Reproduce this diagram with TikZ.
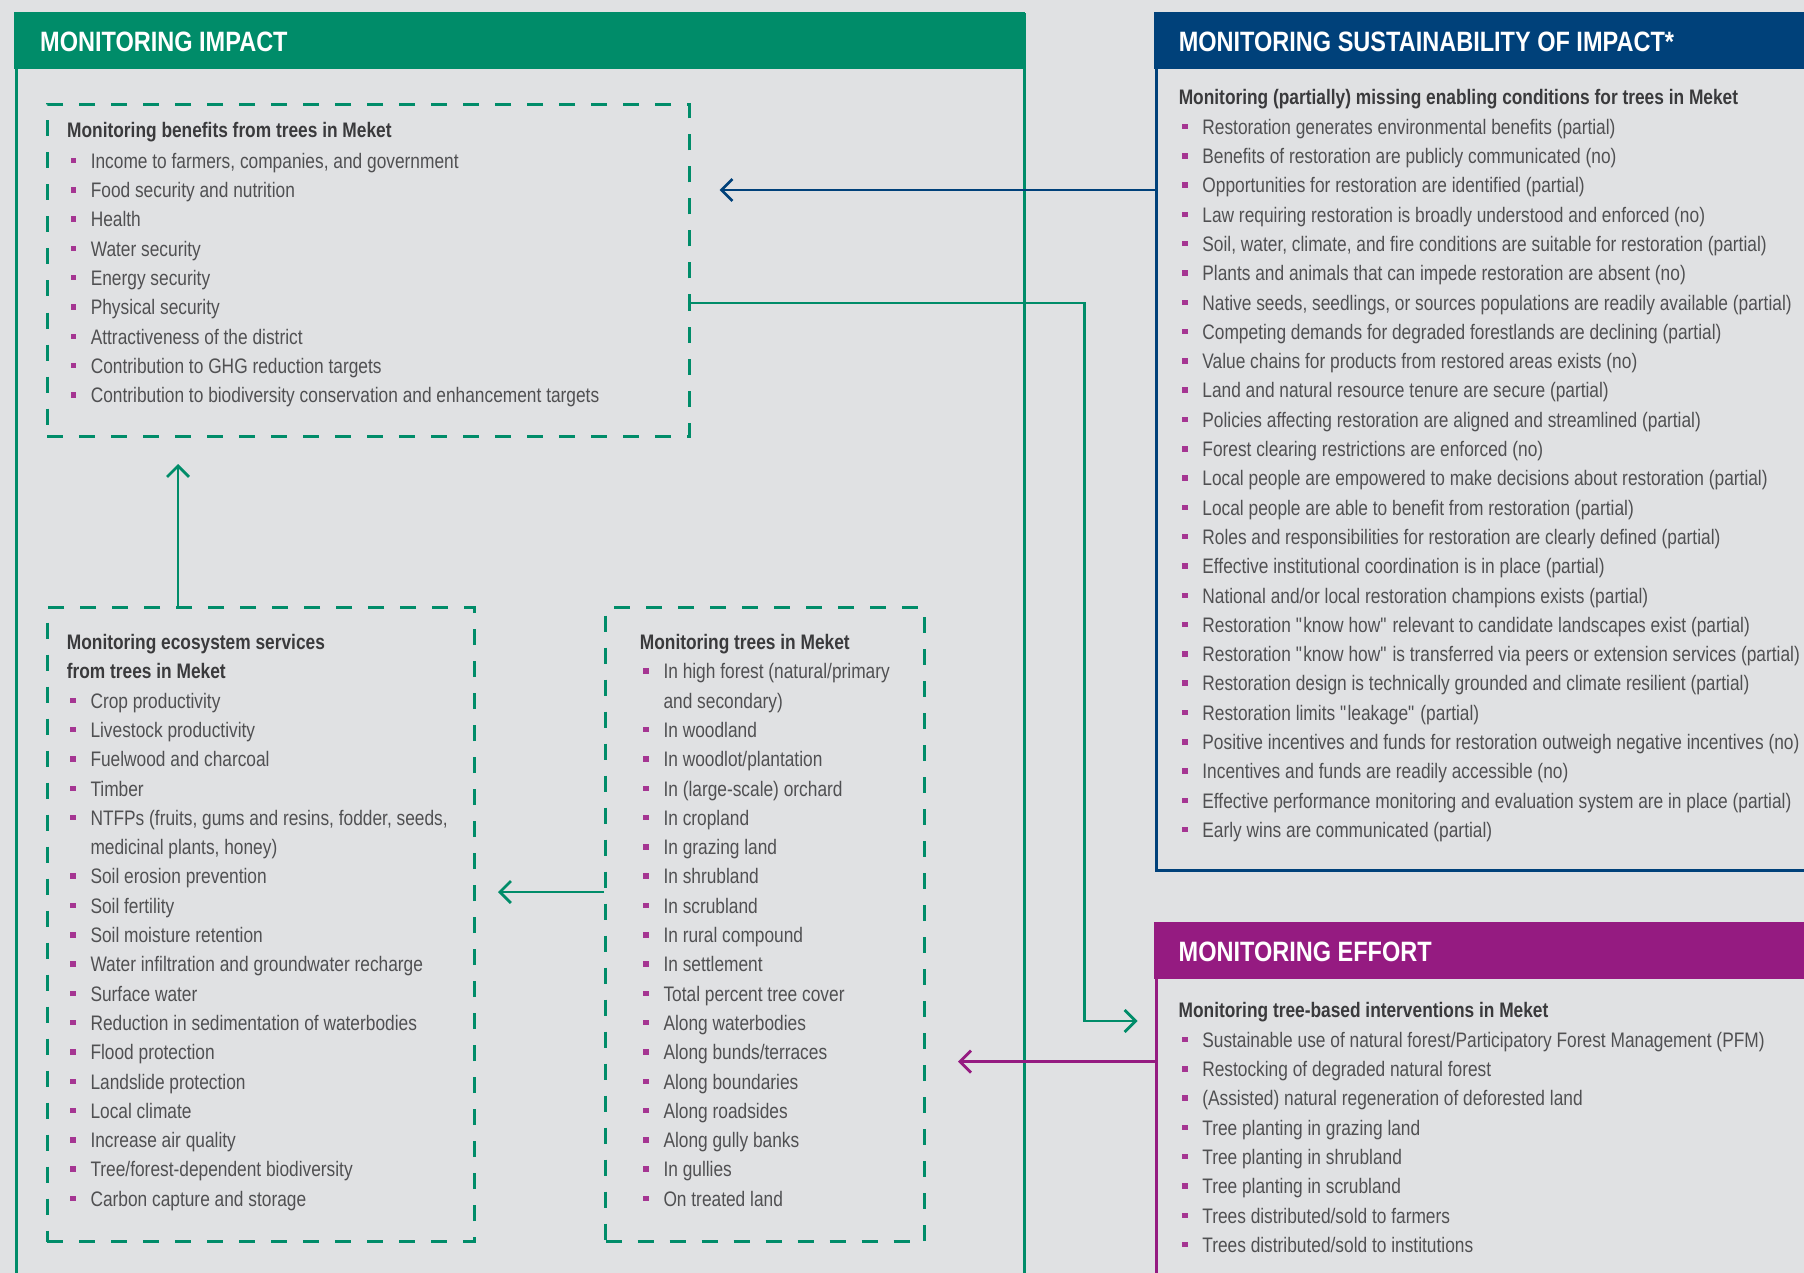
\documentclass[tikz,border=0pt]{standalone}
\usepackage{fontspec}
\usepackage{xcolor}
\usepackage{tikz}
\setmainfont{Liberation Sans}[FakeStretch=0.825]
\newfontfamily\headfont{Liberation Sans}[FakeStretch=0.84]
\definecolor{impactgreen}{HTML}{008C69}
\definecolor{sustblue}{HTML}{00417A}
\definecolor{effortpink}{HTML}{951B81}
\definecolor{bulletpink}{HTML}{A53592}
\definecolor{pagegray}{HTML}{E0E1E3}
\definecolor{itemgray}{HTML}{505052}
\definecolor{headgray}{HTML}{3A3A3C}
\usetikzlibrary{arrows.meta,calc}
\newcommand{\firstline}{\rule{0pt}{20pt}}
\newcommand{\bul}{\hspace*{3.5pt}\makebox[20.1pt][l]{\textcolor{bulletpink}{\rule[5pt]{5.5pt}{5.5pt}}}}
\newcommand{\cont}{\hspace*{23.6pt}}
\newcommand{\hd}[1]{{\color{headgray}\bfseries #1}}
\newcommand{\qt}{\textquotedbl}
\tikzset{panel/.style={
    draw=#1,
    line width=3pt,
    anchor=north west,
    inner sep=0pt}}
\tikzset{headband/.style={
    fill=#1,
    anchor=north west,
    inner sep=0pt,
    minimum height=57.5pt}}
\tikzset{headtext/.style={
    text=white,
    anchor=base west,
    inner sep=0pt,
    font=\headfont\fontsize{28}{30}\selectfont\bfseries}}
\tikzset{dashbox/.style={
    draw=impactgreen,
    line width=3pt,
    dash pattern=on 16pt off 16pt,
    anchor=north west,
    inner sep=0pt}}
\tikzset{listtext/.style={
    anchor=north west,
    inner sep=0pt,
    align=left,
    text=itemgray,
    font=\fontsize{21}{29.3}\selectfont}}
\tikzset{flowarrow/.style={
    draw=#1,
    line width=2.8pt,
    -{Straight Barb[length=11pt,width=22pt]}}}

\begin{document}
\begin{tikzpicture}[x=1pt, y=-1pt]
\useasboundingbox[fill=pagegray] (0,0) rectangle (1804,1273);
\clip (0,0) rectangle (1804,1273);

% panels
\node[panel=impactgreen, minimum width=1008pt, minimum height=1320pt] (impact) at (15,13) {};
\node[headband=impactgreen, minimum width=1011pt] (impacthead) at (13.5,11.5) {};
\node[headtext] (impacttitle) at (40,52) {MONITORING IMPACT};

\node[panel=sustblue, minimum width=800pt, minimum height=856pt] (sust) at (1155,13) {};
\node[headband=sustblue, minimum width=700pt] (susthead) at (1153.5,11.5) {};
\node[headtext] (susttitle) at (1178.6,52) {MONITORING SUSTAINABILITY OF IMPACT*};

\node[panel=effortpink, minimum width=800pt, minimum height=500pt] (effort) at (1155,923) {};
\node[headband=effortpink, minimum width=700pt] (efforthead) at (1153.5,921.5) {};
\node[headtext] (efforttitle) at (1178.5,961) {MONITORING EFFORT};

% dashed boxes
\node[dashbox, minimum width=642pt, minimum height=332pt] (benefits) at (45.5,103) {};
\node[dashbox, minimum width=427.5pt, minimum height=634pt] (ecosys) at (45.5,606) {};
\node[dashbox, minimum width=319pt, minimum height=634pt] (trees) at (604,606) {};

% lists
\node[listtext] (benefitslist) at (67,117) {%
\hd{\firstline Monitoring benefits from trees in Meket}\\[1.7pt]
\bul Income to farmers, companies, and government\\
\bul Food security and nutrition\\
\bul Health\\
\bul Water security\\
\bul Energy security\\
\bul Physical security\\
\bul Attractiveness of the district\\
\bul Contribution to GHG reduction targets\\
\bul Contribution to biodiversity conservation and enhancement targets};

\node[listtext] (ecosyslist) at (66.7,629.3) {%
\hd{\firstline Monitoring ecosystem services}\\
\hd{from trees in Meket}\\
\bul Crop productivity\\
\bul Livestock productivity\\
\bul Fuelwood and charcoal\\
\bul Timber\\
\bul NTFPs (fruits, gums and resins, fodder, seeds,\\
\cont medicinal plants, honey)\\
\bul Soil erosion prevention\\
\bul Soil fertility\\
\bul Soil moisture retention\\
\bul Water infiltration and groundwater recharge\\
\bul Surface water\\
\bul Reduction in sedimentation of waterbodies\\
\bul Flood protection\\
\bul Landslide protection\\
\bul Local climate\\
\bul Increase air quality\\
\bul Tree/forest-dependent biodiversity\\
\bul Carbon capture and storage};

\node[listtext] (treeslist) at (639.7,629.3) {%
\hd{\firstline Monitoring trees in Meket}\\
\bul In high forest (natural/primary\\
\cont and secondary)\\
\bul In woodland\\
\bul In woodlot/plantation\\
\bul In (large-scale) orchard\\
\bul In cropland\\
\bul In grazing land\\
\bul In shrubland\\
\bul In scrubland\\
\bul In rural compound\\
\bul In settlement\\
\bul Total percent tree cover\\
\bul Along waterbodies\\
\bul Along bunds/terraces\\
\bul Along boundaries\\
\bul Along roadsides\\
\bul Along gully banks\\
\bul In gullies\\
\bul On treated land};

\node[listtext] (sustlist) at (1178.6,84.3) {%
\hd{\firstline Monitoring (partially) missing enabling conditions for trees in Meket}\\[0.4pt]
\bul Restoration generates environmental benefits (partial)\\
\bul Benefits of restoration are publicly communicated (no)\\
\bul Opportunities for restoration are identified (partial)\\
\bul Law requiring restoration is broadly understood and enforced (no)\\
\bul Soil, water, climate, and fire conditions are suitable for restoration (partial)\\
\bul Plants and animals that can impede restoration are absent (no)\\
\bul Native seeds, seedlings, or sources populations are readily available (partial)\\
\bul Competing demands for degraded forestlands are declining (partial)\\
\bul Value chains for products from restored areas exists (no)\\
\bul Land and natural resource tenure are secure (partial)\\
\bul Policies affecting restoration are aligned and streamlined (partial)\\
\bul Forest clearing restrictions are enforced (no)\\
\bul Local people are empowered to make decisions about restoration (partial)\\
\bul Local people are able to benefit from restoration (partial)\\
\bul Roles and responsibilities for restoration are clearly defined (partial)\\
\bul Effective institutional coordination is in place (partial)\\
\bul National and/or local restoration champions exists (partial)\\
\bul Restoration \qt know how\qt{} relevant to candidate landscapes exist (partial)\\
\bul Restoration \qt know how\qt{} is transferred via peers or extension services (partial)\\
\bul Restoration design is technically grounded and climate resilient (partial)\\
\bul Restoration limits \qt leakage\qt{} (partial)\\
\bul Positive incentives and funds for restoration outweigh negative incentives (no)\\
\bul Incentives and funds are readily accessible (no)\\
\bul Effective performance monitoring and evaluation system are in place (partial)\\
\bul Early wins are communicated (partial)};

\node[listtext] (effortlist) at (1178.5,997.7) {%
\hd{\firstline Monitoring tree-based interventions in Meket}\\
\bul Sustainable use of natural forest/Participatory Forest Management (PFM)\\
\bul Restocking of degraded natural forest\\
\bul (Assisted) natural regeneration of deforested land\\
\bul Tree planting in grazing land\\
\bul Tree planting in shrubland\\
\bul Tree planting in scrubland\\
\bul Trees distributed/sold to farmers\\
\bul Trees distributed/sold to institutions};

% connectors
\draw[flowarrow=sustblue] ([yshift=-177pt]sust.north west) -- ([xshift=29pt,yshift=-87pt]benefits.north east);
\draw[flowarrow=impactgreen] ([yshift=-200pt]benefits.north east) -| ([xshift=-70.5pt,yshift=-98pt]effort.north west) -- ([xshift=-17.5pt,yshift=-98pt]effort.north west);
\draw[flowarrow=impactgreen] ([xshift=132.5pt]ecosys.north west) -- ([xshift=132.5pt,yshift=-26pt]benefits.south west);
\draw[flowarrow=impactgreen] ([yshift=-286pt]trees.north west) -- ([xshift=22pt,yshift=-286pt]ecosys.north east);
\draw[flowarrow=effortpink] ([yshift=-138.7pt]effort.north west) -- ([xshift=32pt,yshift=-455.7pt]trees.north east);
\end{tikzpicture}
\end{document}
